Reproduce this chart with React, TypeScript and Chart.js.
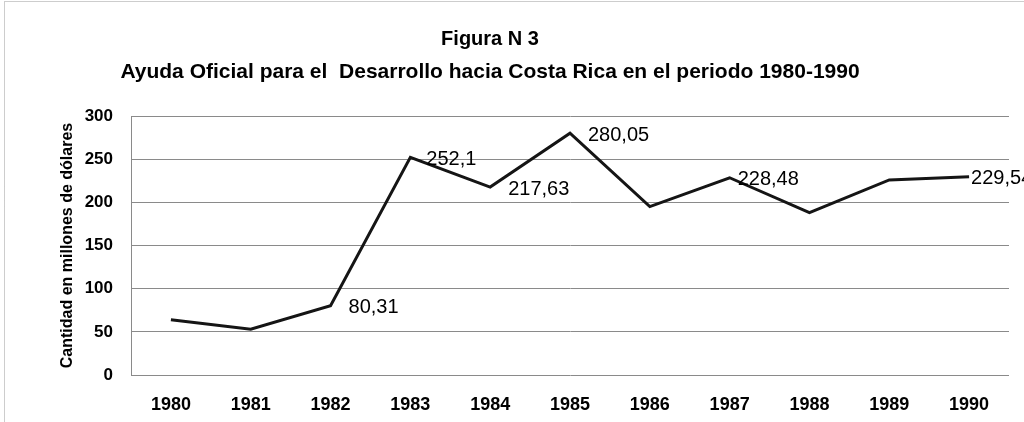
import React, { useEffect, useRef } from "react";
import { Chart, registerables } from "chart.js";

Chart.register(...registerables);

const titleLines = ["Figura N 3", "Ayuda Oficial para el  Desarrollo hacia Costa Rica en el periodo 1980-1990"];
const yAxisTitle = "Cantidad en millones de dólares";
const categories = ["1980", "1981", "1982", "1983", "1984", "1985", "1986", "1987", "1988", "1989", "1990"];
const values = [64, 53, 80.31, 252.1, 217.63, 280.05, 195, 228.48, 188, 226, 229.54];
const labelledIndices = [2, 3, 4, 5, 7, 10];
const labelOffsetsX = [18, 16, 18, 18, 8, 2];
const yTicks = [0, 50, 100, 150, 200, 250, 300];

const W = 1024;
const H = 422;

export default function App() {
  const ref = useRef<HTMLCanvasElement | null>(null);

  useEffect(() => {
    const canvas = ref.current;
    if (!canvas) return;

    const decor = {
      id: "decor",
      beforeDraw(chart: any) {
        const ctx = chart.ctx;
        ctx.save();
        ctx.fillStyle = "#ffffff";
        ctx.fillRect(0, 0, W, H);
        ctx.strokeStyle = "#9a9a9a";
        ctx.lineWidth = 1;
        ctx.setLineDash([1, 1]);
        ctx.strokeRect(4.5, 1.5, W + 20, H + 20);
        ctx.setLineDash([]);
        ctx.fillStyle = "#000";
        ctx.textAlign = "center";
        ctx.textBaseline = "middle";
        ctx.font = "bold 20px 'Liberation Sans', Arial, sans-serif";
        ctx.fillText(titleLines[0], 490, 39);
        ctx.font = "bold 21px 'Liberation Sans', Arial, sans-serif";
        ctx.fillText(titleLines[1], 490, 72);
        ctx.restore();
      },
      afterDatasetsDraw(chart: any) {
        const ctx = chart.ctx;
        const meta = chart.getDatasetMeta(0);
        ctx.save();
        ctx.fillStyle = "#000";
        ctx.font = "20px 'Liberation Sans', Arial, sans-serif";
        ctx.textAlign = "left";
        ctx.textBaseline = "middle";
        labelledIndices.forEach((idx, k) => {
          const el = meta.data[idx];
          if (!el) return;
          const txt = String(values[idx]).replace(".", ",");
          ctx.fillText(txt, el.x + labelOffsetsX[k], el.y + 2);
        });
        ctx.restore();
      },
    };

    const chart = new Chart(canvas, {
      type: "line",
      data: {
        labels: categories,
        datasets: [
          {
            data: values,
            borderColor: "#151515",
            borderWidth: 3,
            pointRadius: 0,
            tension: 0,
            fill: false,
          },
        ],
      },
      options: {
        responsive: false,
        animation: false,
        devicePixelRatio: 1,
        layout: { padding: { top: 116, left: 0, right: 15, bottom: 0 } },
        plugins: {
          legend: { display: false },
          tooltip: { enabled: false },
          title: { display: false },
        },
        scales: {
          x: {
            type: "category",
            offset: true,
            grid: { display: false, drawTicks: false },
            border: { display: false },
            ticks: {
              color: "#000",
              padding: 19,
              maxRotation: 0,
              autoSkip: false,
              font: { family: "'Liberation Sans', Arial, sans-serif", size: 18, weight: "bold" },
            },
            afterFit(s: any) {
              s.height = 47;
            },
          },
          y: {
            min: 0,
            max: 300,
            afterBuildTicks(s: any) {
              s.ticks = yTicks.map((v) => ({ value: v }));
            },
            grid: { color: "#8a8a8a", lineWidth: 1, drawTicks: false },
            border: { display: true, color: "#8a8a8a", width: 1 },
            ticks: {
              color: "#000",
              padding: 18,
              font: { family: "'Liberation Sans', Arial, sans-serif", size: 17, weight: "bold" },
            },
            title: {
              display: true,
              text: yAxisTitle,
              color: "#000",
              padding: { top: 58, bottom: 0 },
              font: { family: "'Liberation Sans', Arial, sans-serif", size: 16, weight: "bold", lineHeight: 1.2 },
            },
            afterFit(s: any) {
              s.width = 131;
            },
          },
        },
      },
      plugins: [decor],
    } as any);

    return () => chart.destroy();
  }, []);

  return (
    <div style={{ position: "fixed", left: 0, top: 0, width: W, height: H, background: "#fff" }}>
      <canvas ref={ref} width={W} height={H} style={{ display: "block", width: W, height: H }} />
    </div>
  );
}
